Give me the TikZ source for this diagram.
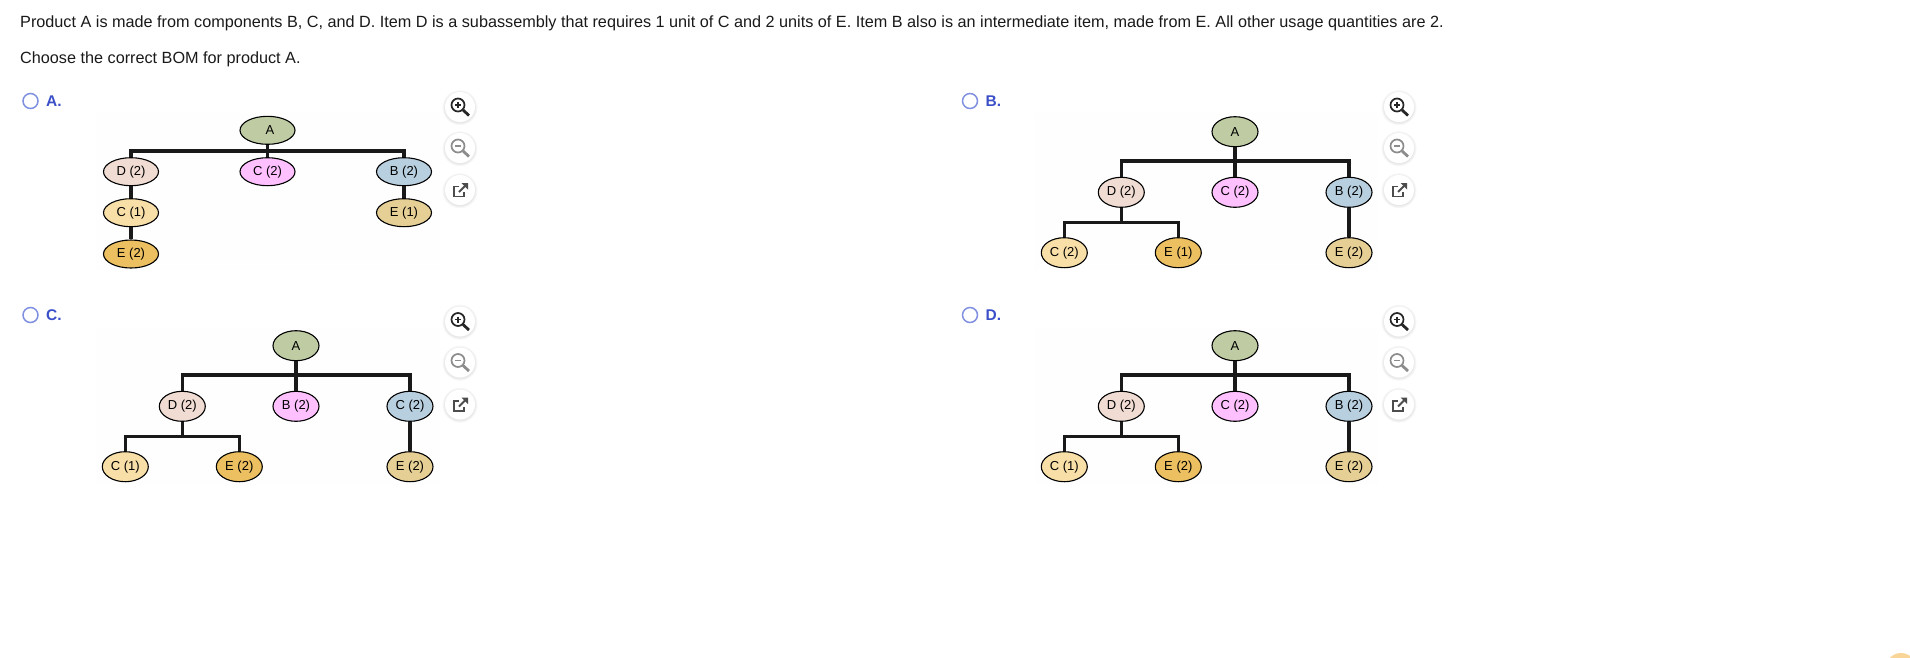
\documentclass[tikz,border=0pt]{standalone}
\usepackage{fontspec}
\setmainfont{Liberation Sans}
\usetikzlibrary{shapes.geometric}

\definecolor{fillA}{HTML}{BFCCA3}
\definecolor{fillD}{HTML}{F0DCD2}
\definecolor{fillC}{HTML}{FFC0FF}
\definecolor{fillB}{HTML}{B8CFDF}
\definecolor{fillCc}{HTML}{F8DFA8}
\definecolor{fillEd}{HTML}{ECBF60}
\definecolor{fillEb}{HTML}{E6CF95}
\definecolor{radioblue}{HTML}{7F90E0}
\definecolor{labelblue}{HTML}{3B4FC8}

\tikzset{
  bomitem/.style={ellipse,draw=black,line width=1.1pt,inner sep=0pt,minimum width=46pt,minimum height=30pt,font=\fontsize{13}{13}\selectfont},
  bomwide/.style={bomitem,minimum width=55pt,minimum height=28pt},
  bomline/.style={line width=3.2pt,black!90},
  question/.style={anchor=base west,inner sep=0pt,font=\fontsize{16.22}{16}\selectfont,text=black!90},
  choice/.style={anchor=base west,inner sep=0pt,font=\fontsize{15.5}{16}\selectfont\bfseries,text=labelblue},
  radio/.style={circle,draw=radioblue,line width=1.5pt,fill=white,minimum size=15pt,inner sep=0pt}
}

\begin{document}
\begin{tikzpicture}[x=1pt,y=-1pt]
  \useasboundingbox (0,0) rectangle (1910,657);

  \node[question] (line1) at (20,27) {Product A is made from components B, C, and D. Item D is a subassembly that requires 1 unit of C and 2 units of E. Item B also is an intermediate item, made from E. All other usage quantities are 2.};
  \node[question] (line2) at (20,63) {Choose the correct BOM for product A.};

  \foreach \name/\x/\y in {A/30.5/101,B/970/101,C/30.5/315,D/970/315} { %for each of the four choices
    \node[radio] (radio\name) at (\x,\y) {};
    \node[choice] (label\name) at (\x+15.5,\y+5) {\name.};
  }

  \foreach \x/\y/\w in {96/113/344,1035/113/343,96/328/344,1035/328/343} { %the faint panels behind the trees
    \fill[black!0.4] (\x,\y) rectangle ++(\w,157);
  }

  %% tree of choice A
  \foreach \name/\x/\y/\txt/\col in {aA/267.5/130.3/\hspace*{5pt}A/fillA,aD/131/171.7/D (2)/fillD,aC/267.5/171.7/C (2)/fillC,aB/404/171.7/B (2)/fillB,
    aCc/131/212.7/C (1)/fillCc,aEb/404/212.7/E (1)/fillEb,aEd/131/254/E (2)/fillEd} {
    \node[bomwide,fill=\col] (\name) at (\x,\y) {\txt};
  }
  \coordinate (abus) at (267.5,151);
  \draw[bomline] (aA) -- (abus) -- (aC);
  \draw[bomline] (abus) -| (aD);
  \draw[bomline] (abus) -| (aB);
  \draw[bomline] (aD) -- (aCc);
  \draw[bomline] (aCc) -- (aEd);
  \draw[bomline] (aB) -- (aEb);

  %% tree of choice B
  \foreach \name/\x/\y/\txt/\col in {bA/1235/131.7/A/fillA,bD/1121.3/192.3/D (2)/fillD,bC/1235/192.3/C (2)/fillC,bB/1349/192.3/B (2)/fillB,
    bCc/1064.3/252.7/C (2)/fillCc,bEd/1178.3/252.7/E (1)/fillEd,bEb/1349/252.7/E (2)/fillEb} {
    \node[bomitem,fill=\col] (\name) at (\x,\y) {\txt};
  }
  \coordinate (bbus) at (1235,161);
  \coordinate (bsub) at (1121.3,222.3);
  \draw[bomline] (bA) -- (bbus) -- (bC);
  \draw[bomline] (bbus) -| (bD);
  \draw[bomline] (bbus) -| (bB);
  \draw[bomline] (bD) -- (bsub);
  \draw[bomline] (bsub) -| (bCc);
  \draw[bomline] (bsub) -| (bEd);
  \draw[bomline] (bB) -- (bEb);

  %% tree of choice C
  \foreach \name/\x/\y/\txt/\col in {cA/296/345.7/A/fillA,cD/182.3/406.3/D (2)/fillD,cB/296/406.3/B (2)/fillC,cC/410/406.3/C (2)/fillB,
    cCc/125.3/466.7/C (1)/fillCc,cEd/239.3/466.7/E (2)/fillEd,cEb/410/466.7/E (2)/fillEb} {
    \node[bomitem,fill=\col] (\name) at (\x,\y) {\txt};
  }
  \coordinate (cbus) at (296,375);
  \coordinate (csub) at (182.3,436.3);
  \draw[bomline] (cA) -- (cbus) -- (cB);
  \draw[bomline] (cbus) -| (cD);
  \draw[bomline] (cbus) -| (cC);
  \draw[bomline] (cD) -- (csub);
  \draw[bomline] (csub) -| (cCc);
  \draw[bomline] (csub) -| (cEd);
  \draw[bomline] (cC) -- (cEb);

  %% tree of choice D
  \foreach \name/\x/\y/\txt/\col in {dA/1235/345.7/A/fillA,dD/1121.3/406.3/D (2)/fillD,dC/1235/406.3/C (2)/fillC,dB/1349/406.3/B (2)/fillB,
    dCc/1064.3/466.7/C (1)/fillCc,dEd/1178.3/466.7/E (2)/fillEd,dEb/1349/466.7/E (2)/fillEb} {
    \node[bomitem,fill=\col] (\name) at (\x,\y) {\txt};
  }
  \coordinate (dbus) at (1235,375);
  \coordinate (dsub) at (1121.3,436.3);
  \draw[bomline] (dA) -- (dbus) -- (dC);
  \draw[bomline] (dbus) -| (dD);
  \draw[bomline] (dbus) -| (dB);
  \draw[bomline] (dD) -- (dsub);
  \draw[bomline] (dsub) -| (dCc);
  \draw[bomline] (dsub) -| (dEd);
  \draw[bomline] (dB) -- (dEb);

  \foreach \px/\py in {460/107,1399/107,460/321.5,1399/321.5} { %for each column of round buttons
    \foreach \shift in {0,41,83} {   %for each button of the column
      \foreach \grow in {17.5,16.5,15.5} {
        \fill[black,opacity=.03] (\px,\py+\shift+0.7) circle (\grow pt);
      }
      \fill[white] (\px,\py+\shift) circle (15pt);
    }
    \draw[line width=1.7pt,black!85] (\px-2,\py-2) circle (6.5pt);
    \draw[line width=1.2pt,black!85] (\px-5,\py-2) -- (\px+1,\py-2) (\px-2,\py-5) -- (\px-2,\py+1);
    \draw[line width=2.8pt,black!85] (\px+3,\py+3) -- (\px+9,\py+8.5);
    \draw[line width=1.7pt,black!45] (\px-2,\py+39) circle (6.5pt);
    \draw[line width=1.2pt,black!45] (\px-5,\py+39) -- (\px+1,\py+39);
    \draw[line width=2.8pt,black!45] (\px+3,\py+44) -- (\px+9,\py+49.5);
    \draw[line width=1.9pt,black!70] (\px-1,\py+83-3.5) -- (\px-6,\py+83-3.5) -- (\px-6,\py+83+6.5) -- (\px+4,\py+83+6.5) -- (\px+4,\py+83+2);
    \draw[line width=1.9pt,black!70] (\px-1,\py+83+2) -- (\px+6,\py+83-5);
    \fill[black!70] (\px+1.5,\py+83-7) -- (\px+8,\py+83-7) -- (\px+8,\py+83-0.5) -- cycle;
  }

  \fill[fillCc!90!orange] (1901,668) circle (15pt);
\end{tikzpicture}
\end{document}
